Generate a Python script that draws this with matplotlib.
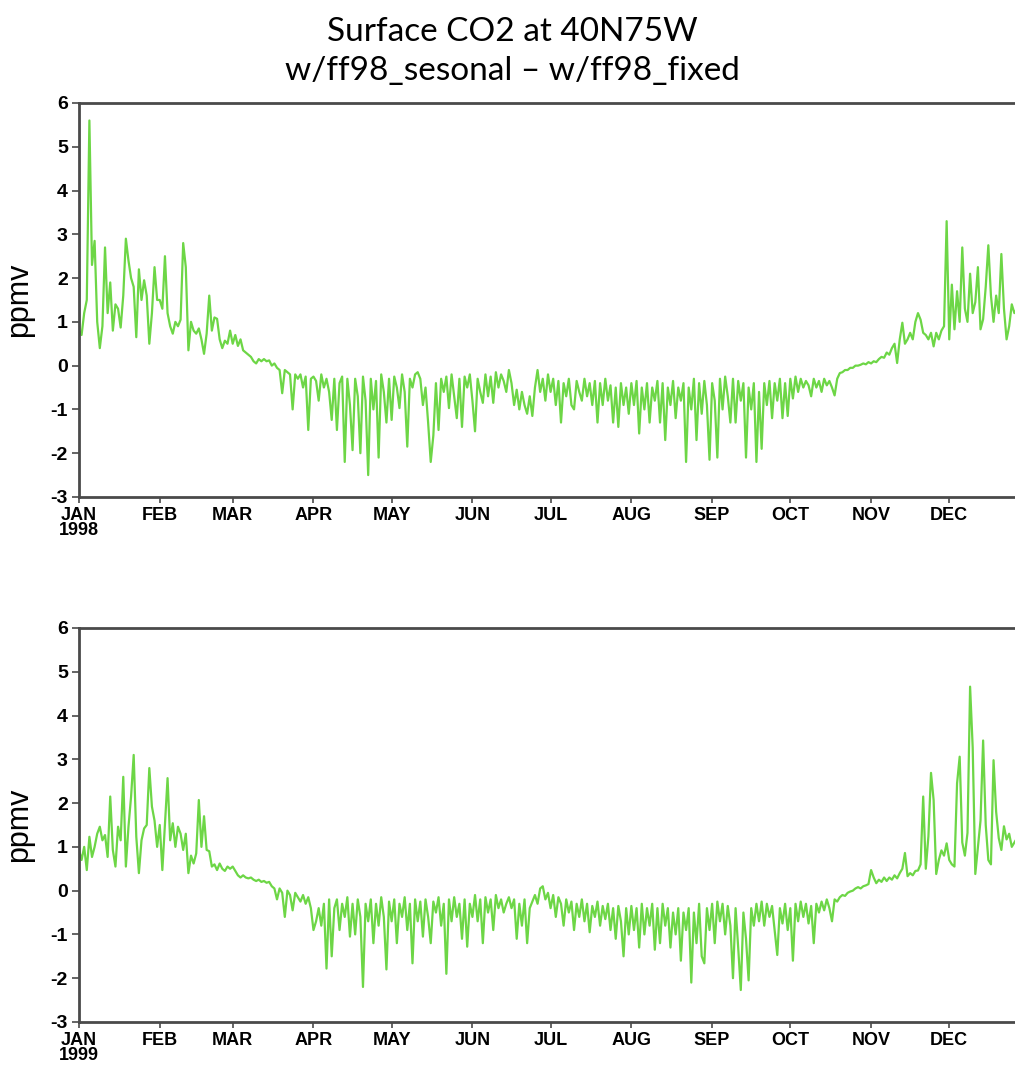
import numpy as np
import matplotlib
matplotlib.use("Agg")
import matplotlib.pyplot as plt

# daily values, ppmv
co2_1998 = [
    # Jan
    0.8, 0.7, 1.2, 1.5, 5.6, 2.3, 2.85, 1.0, 0.4, 0.9, 2.7, 1.2, 1.9, 0.8, 1.4, 1.3,
    0.87, 1.6, 2.9, 2.4, 2.0, 1.8, 0.65, 2.2, 1.5, 1.95, 1.6, 0.5, 1.2, 2.25, 1.5,
    # Feb
    1.5, 1.3, 2.5, 1.2, 0.9, 0.73, 1.0, 0.9, 1.05, 2.8, 2.25, 0.35, 1.0, 0.8, 0.73,
    0.85, 0.6, 0.27, 0.73, 1.6, 0.8, 1.1, 1.07, 0.6, 0.4, 0.57, 0.5, 0.8,
    # Mar
    0.5, 0.7, 0.45, 0.6, 0.35, 0.3, 0.25, 0.2, 0.1, 0.05, 0.15, 0.1, 0.15, 0.1, 0.12,
    0.0, 0.05, -0.05, -0.1, -0.63, -0.1, -0.15, -0.2, -1.0, -0.2, -0.3, -0.2, -0.5,
    -0.25, -1.47, -0.3,
    # Apr
    -0.25, -0.35, -0.8, -0.2, -0.5, -0.3, -0.6, -1.24, -0.3, -1.47, -0.4, -0.25, -2.2,
    -0.3, -0.9, -1.93, -0.3, -0.7, -2.0, -0.25, -0.8, -2.5, -0.3, -1.0, -0.35, -2.1,
    -0.2, -0.6, -1.3, -0.3,
    # May
    -1.24, -0.25, -0.5, -0.97, -0.2, -0.6, -1.85, -0.3, -0.5, -0.2, -0.15, -0.3, -0.9,
    -0.5, -1.3, -2.2, -1.6, -0.4, -1.47, -0.3, -0.6, -0.25, -0.97, -0.2, -0.7, -1.2,
    -0.3, -1.4, -0.25, -0.5, -0.2,
    # Jun
    -0.8, -1.5, -0.3, -0.6, -0.85, -0.2, -0.7, -0.25, -0.85, -0.15, -0.5, -0.2, -0.35,
    -0.6, -0.1, -0.4, -0.9, -0.55, -1.0, -0.6, -0.9, -1.1, -0.7, -1.15, -0.5, -0.1,
    -0.6, -0.3, -0.8, -0.2,
    # Jul
    -0.6, -0.3, -0.9, -0.35, -1.3, -0.4, -0.7, -0.3, -0.9, -1.0, -0.35, -0.6, -0.8,
    -0.3, -0.7, -0.4, -0.9, -0.35, -1.3, -0.4, -0.9, -0.3, -0.8, -0.45, -1.3, -0.5,
    -1.4, -0.4, -0.9, -0.5, -1.1,
    # Aug
    -0.4, -0.9, -0.35, -1.55, -0.5, -1.0, -0.4, -1.3, -0.5, -0.8, -0.35, -1.3, -0.4,
    -1.7, -0.5, -0.9, -0.35, -1.2, -0.5, -0.8, -0.4, -2.2, -0.5, -1.0, -0.3, -1.7,
    -0.4, -1.1, -0.35, -0.9, -2.15,
    # Sep
    -0.4, -0.8, -2.1, -0.3, -1.0, -0.25, -0.7, -1.3, -0.3, -1.3, -0.35, -0.8, -0.4,
    -2.1, -0.5, -1.0, -0.4, -2.2, -0.6, -1.9, -0.4, -0.9, -0.35, -1.2, -0.4, -0.8,
    -0.3, -1.2, -0.4, -1.15,
    # Oct
    -0.3, -0.75, -0.25, -0.6, -0.3, -0.5, -0.35, -0.45, -0.7, -0.3, -0.5, -0.35, -0.6,
    -0.3, -0.45, -0.35, -0.5, -0.68, -0.3, -0.17, -0.15, -0.1, -0.1, -0.05, -0.05,
    0.0, 0.0, 0.02, 0.05, 0.03, 0.08,
    # Nov
    0.05, 0.1, 0.08, 0.15, 0.2, 0.18, 0.3, 0.25, 0.4, 0.5, 0.06, 0.6, 0.98, 0.5, 0.6,
    0.75, 0.6, 1.0, 1.2, 1.05, 0.75, 0.7, 0.6, 0.75, 0.44, 0.75, 0.6, 0.8, 0.9, 3.3,
    # Dec
    0.6, 1.85, 0.83, 1.7, 1.0, 2.7, 1.3, 1.0, 2.1, 1.2, 1.45, 2.25, 0.83, 1.06, 1.8,
    2.75, 1.6, 1.0, 1.6, 1.2, 2.55, 1.3, 0.6, 0.9, 1.4, 1.2, 1.3, 1.1, 1.2, 1.0, 1.1,
]

co2_1999 = [
    # Jan
    0.93, 0.7, 1.0, 0.47, 1.23, 0.77, 1.0, 1.3, 1.46, 1.15, 1.27, 0.77, 2.15, 0.93,
    0.55, 1.46, 1.15, 2.6, 0.55, 1.46, 2.15, 3.1, 1.23, 0.4, 1.15, 1.42, 1.5, 2.8,
    1.92, 1.6, 1.0,
    # Feb
    1.5, 0.47, 1.54, 2.57, 1.15, 1.54, 1.0, 1.46, 1.3, 0.93, 1.3, 0.4, 0.8, 0.62, 0.85,
    2.07, 1.0, 1.7, 0.93, 0.9, 0.55, 0.6, 0.47, 0.62, 0.5, 0.45, 0.55, 0.5,
    # Mar
    0.55, 0.45, 0.35, 0.3, 0.35, 0.3, 0.28, 0.3, 0.25, 0.22, 0.25, 0.2, 0.22, 0.18,
    0.2, 0.1, 0.05, -0.2, 0.05, -0.05, -0.6, 0.0, -0.1, -0.45, -0.05, -0.15, -0.25,
    -0.1, -0.3, -0.15, -0.4,
    # Apr
    -0.9, -0.7, -0.4, -0.8, -0.3, -1.78, -0.2, -1.5, -0.4, -0.2, -0.9, -0.3, -0.6,
    -0.15, -1.05, -0.3, -1.0, -0.2, -0.6, -2.2, -0.3, -0.7, -0.2, -1.2, -0.3, -0.8,
    -0.15, -0.6, -1.8, -0.25,
    # May
    -0.7, -0.2, -1.2, -0.3, -0.6, -0.15, -0.9, -0.3, -1.66, -0.2, -0.7, -0.25, -1.05,
    -0.2, -0.6, -1.2, -0.25, -0.5, -0.15, -0.8, -0.3, -1.9, -0.2, -0.7, -0.15, -0.6,
    -0.3, -1.1, -0.2, -1.28, -0.3,
    # Jun
    -0.6, -0.1, -0.7, -0.2, -1.2, -0.15, -0.5, -0.2, -0.9, -0.1, -0.4, -0.2, -0.5,
    -0.3, -0.15, -0.4, -0.2, -1.1, -0.3, -0.8, -0.2, -1.2, -0.4, -0.25, -0.1, -0.3,
    0.05, 0.1, -0.2, -0.05,
    # Jul
    -0.4, -0.1, -0.6, -0.15, -0.3, -0.8, -0.2, -0.5, -0.25, -0.9, -0.3, -0.6, -0.2,
    -0.7, -0.3, -0.95, -0.35, -0.6, -0.25, -0.8, -0.35, -0.65, -0.3, -0.9, -0.4, -1.1,
    -0.35, -0.7, -1.5, -0.4, -1.0,
    # Aug
    -0.35, -0.9, -0.4, -1.3, -0.3, -1.0, -0.4, -0.8, -0.3, -1.35, -0.4, -1.2, -0.3,
    -0.8, -0.4, -1.3, -0.5, -1.0, -0.4, -1.6, -0.5, -0.9, -0.4, -2.1, -0.5, -1.2,
    -0.3, -1.5, -1.66, -0.4, -0.9,
    # Sep
    -0.3, -1.2, -0.25, -0.7, -0.3, -1.0, -0.35, -0.8, -2.0, -0.4, -1.3, -2.27, -0.5,
    -1.1, -2.05, -0.4, -0.8, -0.3, -0.7, -0.25, -0.8, -0.3, -0.6, -0.35, -0.9, -1.47,
    -0.4, -0.75, -0.3, -0.9,
    # Oct
    -0.4, -1.6, -0.3, -0.7, -0.25, -0.6, -0.3, -0.75, -0.35, -1.2, -0.3, -0.5, -0.25,
    -0.45, -0.2, -0.4, -0.7, -0.2, -0.25, -0.15, -0.1, -0.12, -0.05, -0.02, 0.0, 0.05,
    0.08, 0.05, 0.1, 0.12, 0.15,
    # Nov
    0.47, 0.3, 0.17, 0.25, 0.2, 0.3, 0.22, 0.3, 0.25, 0.35, 0.28, 0.4, 0.5, 0.86, 0.33,
    0.4, 0.35, 0.45, 0.46, 0.6, 2.15, 0.5, 1.24, 2.69, 2.07, 0.38, 0.7, 0.92, 0.8, 1.08,
    # Dec
    0.7, 0.6, 0.55, 2.45, 3.06, 1.1, 0.8, 1.32, 4.66, 3.27, 0.38, 1.0, 1.6, 3.43, 1.5,
    0.7, 0.6, 2.98, 1.8, 1.2, 0.93, 1.47, 1.17, 1.3, 1.0, 1.1, 1.2, 0.9, 1.1, 1.0, 1.2,
]

years = ["1998", "1999"]
month_labels = ["JAN", "FEB", "MAR", "APR", "MAY", "JUN",
                "JUL", "AUG", "SEP", "OCT", "NOV", "DEC"]
month_start = [0, 31, 59, 90, 120, 151, 181, 212, 243, 273, 304, 334]
yticks = [-3, -2, -1, 0, 1, 2, 3, 4, 5, 6]

tick_font = ["Liberation Sans", "DejaVu Sans"]
title_font = ["Lato", "Liberation Sans", "DejaVu Sans"]
line_color = "#6dd646"
spine_color = "#4a4a4a"

fig = plt.figure(figsize=(10.15, 10.66), dpi=100)

fig.text(0.505, 0.962, "Surface CO2 at 40N75W", ha="center", va="baseline",
         fontsize=24, family=title_font, color="black")
fig.text(0.505, 0.925, "w/ff98_sesonal \u2013 w/ff98_fixed", ha="center",
         va="baseline", fontsize=24, family=title_font, color="black")

panels = [(co2_1998, 0.5338), (co2_1999, 0.0413)]
for (vals, bottom), year in zip(panels, years):
    ax = fig.add_axes([0.0778, bottom, 0.937, 0.3696])
    days = np.arange(len(vals))
    ax.plot(days, vals, color=line_color, lw=1.6)

    ax.set_xlim(0, 365)
    ax.set_ylim(-3, 6)
    ax.set_yticks(yticks)
    ax.set_yticklabels([str(v) for v in yticks], family=tick_font,
                       fontsize=14, fontweight="bold")
    labels = [m if m != "JAN" else "JAN\n" + year for m in month_labels]
    ax.set_xticks(month_start)
    ax.set_xticklabels(labels, family=tick_font, fontsize=13, fontweight="bold",
                       linespacing=0.9, va="top")
    for lab in ax.get_xticklabels():
        lab.set_multialignment("center")

    ax.tick_params(axis="y", direction="out", length=5, width=1.2,
                   color=spine_color, pad=3)
    ax.tick_params(axis="x", direction="out", length=4, width=1.2,
                   color=spine_color, pad=3)
    ax.spines["right"].set_visible(False)
    for s in ["top", "bottom", "left"]:
        ax.spines[s].set_color(spine_color)
        ax.spines[s].set_linewidth(2.0)

    ax.set_ylabel("ppmv", fontsize=22, family=["Liberation Sans", "DejaVu Sans"])
    ax.yaxis.set_label_coords(-0.047, 0.5)

fig.savefig("out.png", dpi=100)
